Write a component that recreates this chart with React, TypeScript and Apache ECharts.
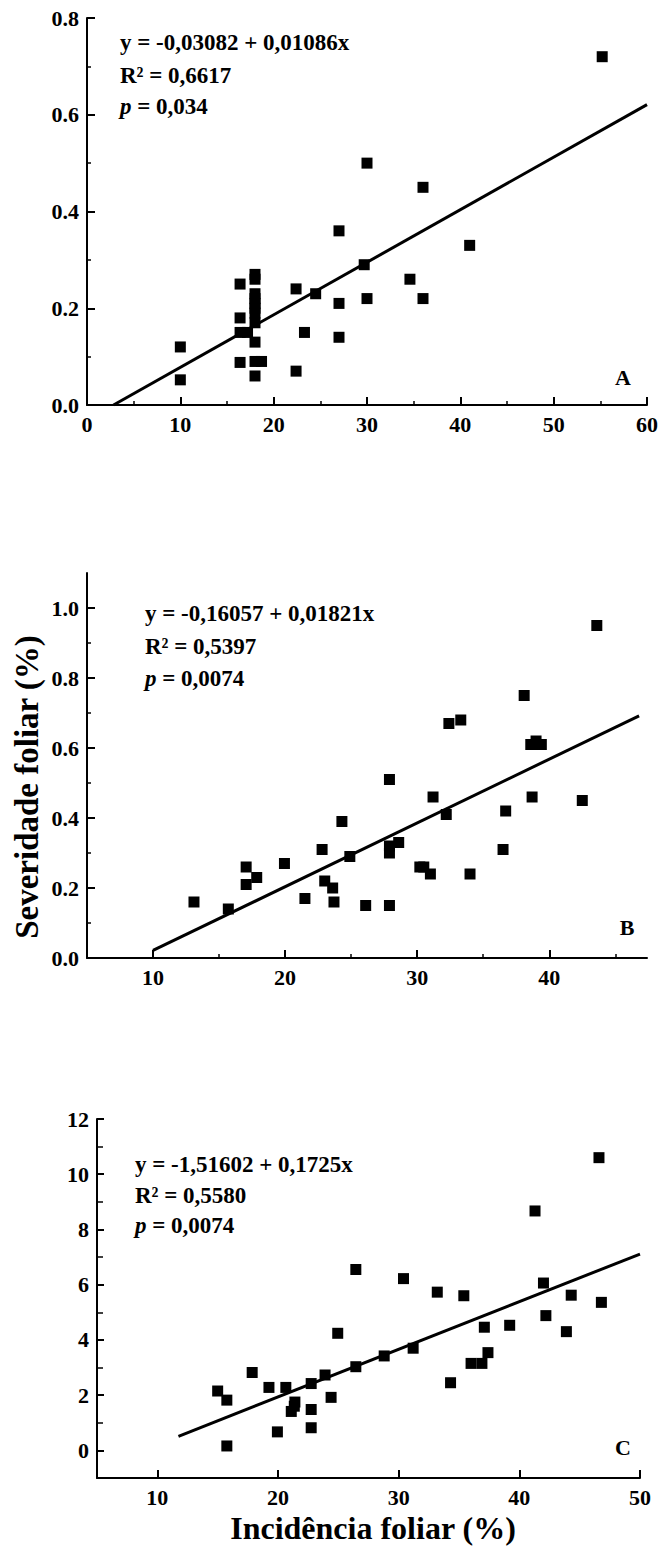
import React, { useEffect, useRef } from "react";
import * as echarts from "echarts";

// ---------- Data ----------
const aX = [55.2, 30, 36, 27, 41, 29.7, 34.6, 30, 36, 27, 27, 22.4, 24.5, 23.3, 22.4, 16.4, 16.4, 16.4, 17.2, 16.4, 10, 10, 18, 18, 18, 18, 18, 18, 18, 18, 18, 18, 18.7, 18];
const aY = [0.72, 0.5, 0.45, 0.36, 0.33, 0.29, 0.26, 0.22, 0.22, 0.21, 0.14, 0.24, 0.23, 0.15, 0.07, 0.25, 0.18, 0.15, 0.15, 0.088, 0.12, 0.052, 0.27, 0.26, 0.23, 0.22, 0.21, 0.2, 0.19, 0.17, 0.13, 0.09, 0.09, 0.06];

const bX = [43.6, 38.1, 32.4, 33.3, 38.6, 39.0, 39.4, 27.9, 31.2, 38.7, 42.5, 32.2, 36.7, 36.5, 24.3, 22.8, 27.9, 27.9, 28.6, 24.9, 30.2, 30.5, 31.0, 34.0, 19.95, 17.05, 17.05, 17.85, 23.0, 23.6, 23.7, 21.5, 26.1, 27.9, 13.1, 15.7];
const bY = [0.95, 0.75, 0.67, 0.68, 0.61, 0.62, 0.61, 0.51, 0.46, 0.46, 0.45, 0.41, 0.42, 0.31, 0.39, 0.31, 0.32, 0.3, 0.33, 0.29, 0.26, 0.26, 0.24, 0.24, 0.27, 0.26, 0.21, 0.23, 0.22, 0.2, 0.16, 0.17, 0.15, 0.15, 0.16, 0.14];

const cX = [46.6, 41.3, 26.45, 30.4, 33.2, 35.4, 42.0, 44.3, 46.8, 42.2, 43.9, 39.2, 37.1, 37.4, 36.0, 36.9, 34.3, 31.2, 28.8, 26.45, 24.95, 23.9, 22.75, 24.4, 20.65, 19.25, 17.86, 15.0, 15.76, 15.76, 19.95, 22.75, 22.75, 21.4, 21.35, 21.1];
const cY = [10.6, 8.67, 6.55, 6.22, 5.73, 5.6, 6.06, 5.62, 5.36, 4.88, 4.3, 4.53, 4.46, 3.54, 3.15, 3.15, 2.45, 3.7, 3.42, 3.03, 4.24, 2.73, 2.42, 1.92, 2.28, 2.28, 2.82, 2.15, 1.82, 0.16, 0.67, 0.82, 1.48, 1.75, 1.6, 1.41];

// regression line end points
const aLine = [[2.84, 0], [60, 0.621]];
const bLine = [[10, 0.0215], [46.8, 0.692]];
const cLine = [[11.75, 0.51], [50, 7.11]];

// tick labels / tick positions
const aXTicks = [0, 10, 20, 30, 40, 50, 60];
const aXMinor = [5, 15, 25, 35, 45, 55];
const aYTicks = [0, 0.2, 0.4, 0.6, 0.8];
const aYMinor = [0.1, 0.3, 0.5, 0.7];
const bXTicks = [10, 20, 30, 40];
const bXMinor = [15, 25, 35, 45];
const bYTicks = [0, 0.2, 0.4, 0.6, 0.8, 1.0];
const bYMinor = [0.1, 0.3, 0.5, 0.7, 0.9];
const cXTicks = [10, 20, 30, 40, 50];
const cYTicks = [0, 2, 4, 6, 8, 10, 12];
const cYMinor = [1, 3, 5, 7, 9, 11];

const eqA = ["y = -0,03082 + 0,01086x", "R\u00B2 = 0,6617", "{i|p} = 0,034"];
const eqB = ["y = -0,16057 + 0,01821x", "R\u00B2 = 0,5397", "{i|p} = 0,0074"];
const eqC = ["y = -1,51602 + 0,1725x", "R\u00B2 = 0,5580", "{i|p} = 0,0074"];

const FONT = "Liberation Serif";

const zip = (xs: number[], ys: number[]) => xs.map((x, i) => [x, ys[i]]);

function axisPair(
  dim: "x" | "y",
  gridIndex: number,
  min: number,
  max: number,
  labels: number[],
  minor: number[],
  fmt: (v: number) => string,
  majorLen: number,
  minorLen: number
) {
  const position = dim === "x" ? "bottom" : "left";
  const main: any = {
    type: "value",
    gridIndex,
    min,
    max,
    position,
    offset: 0,
    axisLine: { show: true, onZero: false, lineStyle: { color: "#000", width: 2 } },
    axisTick: {
      show: true,
      inside: true,
      length: majorLen,
      customValues: labels,
      lineStyle: { color: "#000", width: 2 },
    },
    axisLabel: {
      show: true,
      customValues: labels,
      formatter: (v: number) => fmt(v),
      color: "#000",
      fontFamily: FONT,
      fontWeight: "bold",
      fontSize: 22,
      margin: 8,
    },
    splitLine: { show: false },
    minorTick: { show: false },
  };
  const sub: any = {
    type: "value",
    gridIndex,
    min,
    max,
    position,
    offset: 0,
    axisLine: { show: false, onZero: false },
    axisTick: {
      show: minor.length > 0,
      inside: true,
      length: minorLen,
      customValues: minor,
      lineStyle: { color: "#000", width: 1.5 },
    },
    axisLabel: { show: false },
    splitLine: { show: false },
  };
  return [main, sub];
}

function eqGraphics(lines: string[], x: number, ys: number[]) {
  return lines.map((t, i) => ({
    type: "text",
    x,
    y: ys[i],
    style: {
      text: t,
      fill: "#000",
      fontFamily: FONT,
      fontWeight: "bold",
      fontSize: 23,
      verticalAlign: "middle",
      align: "left",
      rich: {
        i: {
          fontFamily: FONT,
          fontWeight: "bold",
          fontStyle: "italic",
          fontSize: 23,
          fill: "#000",
        },
      },
    },
  }));
}

function panelLabel(t: string, x: number, y: number) {
  return {
    type: "text",
    x,
    y,
    style: {
      text: t,
      fill: "#000",
      fontFamily: FONT,
      fontWeight: "bold",
      fontSize: 22,
      align: "center",
      verticalAlign: "middle",
    },
  };
}

export default function App() {
  const ref = useRef<HTMLDivElement>(null);

  useEffect(() => {
    if (!ref.current) return;
    const chart = echarts.init(ref.current, undefined, { renderer: "svg" });

    const fmt1 = (v: number) => v.toFixed(1);
    const fmt0 = (v: number) => String(Math.round(v));

    const [ax0, ax1] = axisPair("x", 0, 0, 60, aXTicks, aXMinor, fmt0, 8, 4);
    const [ay0, ay1] = axisPair("y", 0, 0, 0.8, aYTicks, aYMinor, fmt1, 8, 4);
    const [bx0, bx1] = axisPair("x", 1, 5, 47.4, bXTicks, bXMinor, fmt0, 8, 4);
    const [by0, by1] = axisPair("y", 1, 0, 1.1, bYTicks, bYMinor, fmt1, 8, 4);
    const [cx0, cx1] = axisPair("x", 2, 5, 50, cXTicks, [], fmt0, 8, 4);
    const [cy0, cy1] = axisPair("y", 2, -1, 12, cYTicks, cYMinor, fmt0, 7, 6);

    const scatter = (xi: number, yi: number, data: number[][]) => ({
      type: "scatter",
      xAxisIndex: xi,
      yAxisIndex: yi,
      data,
      symbol: "rect",
      symbolSize: 11,
      itemStyle: { color: "#000", opacity: 1 },
      silent: true,
    });
    const line = (xi: number, yi: number, data: number[][]) => ({
      type: "line",
      xAxisIndex: xi,
      yAxisIndex: yi,
      data,
      showSymbol: false,
      symbol: "none",
      lineStyle: { color: "#000", width: 3 },
      silent: true,
    });

    chart.setOption({
      animation: false,
      backgroundColor: "#fff",
      grid: [
        { left: 87, top: 18, width: 563, height: 387, containLabel: false },
        { left: 87, top: 573, width: 560, height: 385, containLabel: false },
        { left: 97, top: 1119, width: 543, height: 359, containLabel: false },
      ],
      xAxis: [ax0, ax1, bx0, bx1, cx0, cx1],
      yAxis: [ay0, ay1, by0, by1, cy0, cy1],
      series: [
        line(0, 0, aLine),
        scatter(0, 0, zip(aX, aY)),
        line(2, 2, bLine),
        scatter(2, 2, zip(bX, bY)),
        line(4, 4, cLine),
        scatter(4, 4, zip(cX, cY)),
      ],
      graphic: [
        ...eqGraphics(eqA, 120, [42, 75, 106]),
        ...eqGraphics(eqB, 145, [613, 646, 678]),
        ...eqGraphics(eqC, 135, [1164, 1195, 1225]),
        panelLabel("A", 623, 377),
        panelLabel("B", 627, 927),
        panelLabel("C", 623, 1447),
        {
          type: "text",
          x: 27,
          y: 787,
          rotation: Math.PI / 2,
          style: {
            text: "Severidade foliar (%)",
            fill: "#000",
            fontFamily: FONT,
            fontWeight: "bold",
            fontSize: 33,
            align: "center",
            verticalAlign: "middle",
          },
        },
        {
          type: "text",
          x: 373,
          y: 1528,
          style: {
            text: "Incid\u00EAncia foliar (%)",
            fill: "#000",
            fontFamily: FONT,
            fontWeight: "bold",
            fontSize: 32,
            align: "center",
            verticalAlign: "middle",
          },
        },
      ],
    });

    return () => chart.dispose();
  }, []);

  return (
    <div
      ref={ref}
      style={{ position: "absolute", left: 0, top: 0, width: 661, height: 1546 }}
    />
  );
}
